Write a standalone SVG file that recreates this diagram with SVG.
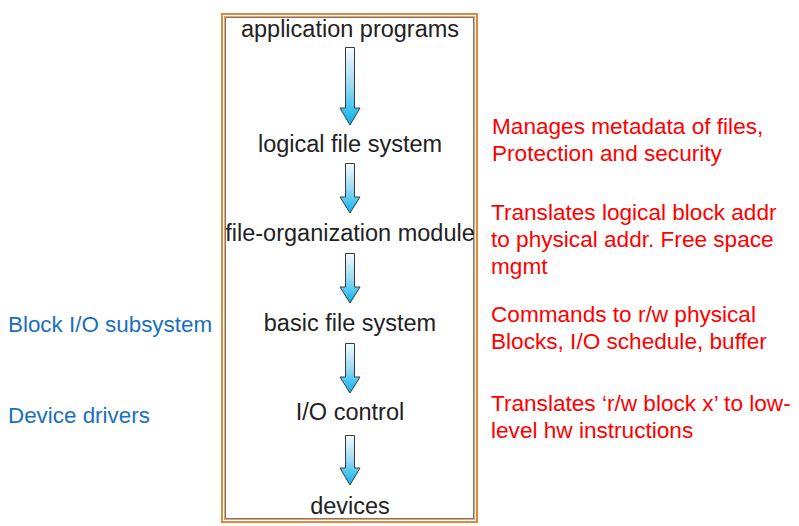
<svg xmlns="http://www.w3.org/2000/svg" width="799" height="526" viewBox="0 0 799 526">
<defs>
<linearGradient id="ag" x1="0" y1="0" x2="0" y2="1">
<stop offset="0" stop-color="#f4fafd"/>
<stop offset="0.5" stop-color="#9ad9f3"/>
<stop offset="1" stop-color="#00b4f0"/>
</linearGradient>
<style>
.lay{font-family:"Liberation Sans",Arial,sans-serif;font-size:23.5px;fill:#222;text-anchor:middle}
.note{font-family:"Liberation Sans",Arial,sans-serif;font-size:22.6px;fill:#ff0000}
.side{font-family:"Liberation Sans",Arial,sans-serif;font-size:22.4px;fill:#1a70c0}
.arr{fill:url(#ag);stroke:#3a3a3a;stroke-width:1}
</style>
</defs>
<rect width="799" height="526" fill="#fff"/>
<g id="frame">
<rect x="222" y="14" width="255" height="508" fill="none" stroke="#e0893c" stroke-width="2"/>
<rect x="224.5" y="16.5" width="250" height="503" fill="none" stroke="#e9a56a" stroke-width="1"/>
<rect x="225.5" y="17.5" width="248" height="501" fill="none" stroke="#777" stroke-width="1"/>
</g>
<g id="n-app"><text class="lay" x="350" y="37">application programs</text></g>
<g id="n-lfs"><text class="lay" x="350" y="152">logical file system</text></g>
<g id="n-fom"><text class="lay" x="350" y="241">file-organization module</text></g>
<g id="n-bfs"><text class="lay" x="350" y="331">basic file system</text></g>
<g id="n-ioc"><text class="lay" x="350" y="420">I/O control</text></g>
<g id="n-dev"><text class="lay" x="350" y="514">devices</text></g>
<g id="connectors">
<path class="arr" d="M345.5,47.5 H354.5 V108 H360 L350,125 L340,108 H345.5 Z"/>
<path class="arr" d="M345.5,163.5 H354.5 V197 H360 L350,213 L340,197 H345.5 Z"/>
<path class="arr" d="M345.5,253.5 H354.5 V287 H360 L350,303 L340,287 H345.5 Z"/>
<path class="arr" d="M345.5,343.5 H354.5 V377 H360 L350,393 L340,377 H345.5 Z"/>
<path class="arr" d="M345.5,435.5 H354.5 V468 H360 L350,485 L340,468 H345.5 Z"/>
</g>
<g id="notes">
<text class="note" x="492" y="134">Manages metadata of files,</text>
<text class="note" x="492" y="161">Protection and security</text>
<text class="note" x="491" y="220">Translates logical block addr</text>
<text class="note" x="491" y="247">to physical addr. Free space</text>
<text class="note" x="491" y="274">mgmt</text>
<text class="note" x="491" y="322">Commands to r/w physical</text>
<text class="note" x="491" y="349">Blocks, I/O schedule, buffer</text>
<text class="note" x="491" y="411">Translates ‘r/w block x’ to low-</text>
<text class="note" x="491" y="438">level hw instructions</text>
</g>
<g id="side">
<text class="side" x="8" y="332">Block I/O subsystem</text>
<text class="side" x="8" y="423">Device drivers</text>
</g>
</svg>
